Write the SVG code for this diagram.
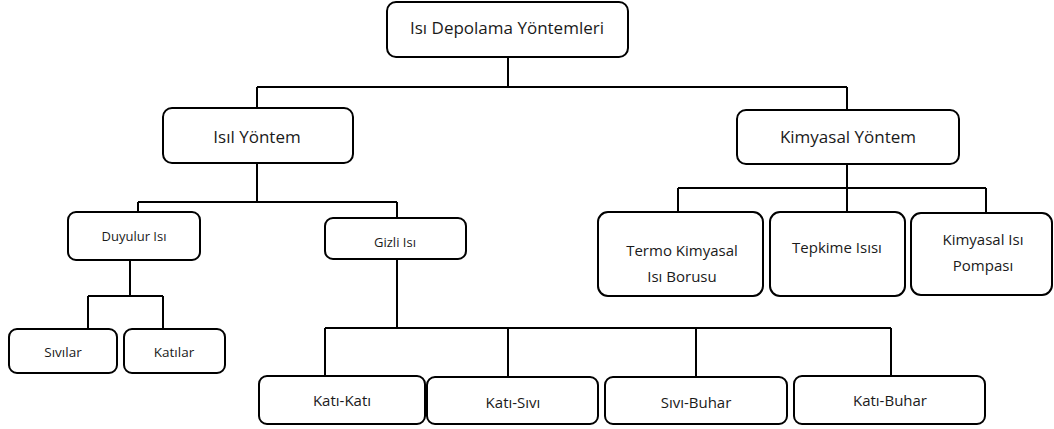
<svg xmlns="http://www.w3.org/2000/svg" width="1054" height="429" viewBox="0 0 1054 429">
<style>
.box{fill:#fff;stroke:#000;stroke-width:2}
.ln{fill:none;stroke:#000;stroke-width:2}
text{font-family:"Open Sans","DejaVu Sans",sans-serif;fill:#1a1a1a;text-anchor:middle}
.t1{font-size:17px}
.t2{font-size:13px}
.t3{font-size:13.5px}
.t4{font-size:15px}
.t5{font-size:15px}
</style>
<rect width="1054" height="429" fill="#fff"/>
<g id="connectors">
<path class="ln" d="M508 57V87M257 87H847M257 87V108M847 87V110"/>
<path class="ln" d="M257 163V202M138 202H397M138 202V212M397 202V218"/>
<path class="ln" d="M847 164V212M678 188H986M678 188V212M986 188V213"/>
<path class="ln" d="M130 260V296M88 296H163M88 296V329M163 296V329"/>
<path class="ln" d="M397 259V328M325 328H891M325 328V376M508 328V377M696 328V377M891 328V376"/>
</g>
<g id="n-root"><rect class="box" x="387" y="2" width="241" height="55" rx="9"/><text class="t1" x="507" y="34">Isı Depolama Yöntemleri</text></g>
<g id="n-isil"><rect class="box" x="163" y="108" width="190" height="55" rx="9"/><text class="t1" x="257" y="143">Isıl Yöntem</text></g>
<g id="n-kimyasal"><rect class="box" x="737" y="110" width="222" height="54" rx="9"/><text class="t1" x="848" y="143">Kimyasal Yöntem</text></g>
<g id="n-duyulur"><rect class="box" x="68" y="212" width="132" height="48" rx="8"/><text class="t2" x="134" y="241">Duyulur Isı</text></g>
<g id="n-gizli"><rect class="box" x="325" y="218" width="141" height="41" rx="8"/><text class="t2" x="395" y="247">Gizli Isı</text></g>
<g id="n-sivilar"><rect class="box" x="9" y="329" width="108" height="44" rx="8"/><text class="t3" x="63" y="357">Sıvılar</text></g>
<g id="n-katilar"><rect class="box" x="124" y="329" width="101" height="44" rx="8"/><text class="t3" x="174" y="357">Katılar</text></g>
<g id="n-katikati"><rect class="box" x="259" y="376" width="166" height="48" rx="8"/><text class="t4" x="342" y="406">Katı-Katı</text></g>
<g id="n-katisivi"><rect class="box" x="427" y="377" width="171" height="47" rx="8"/><text class="t4" x="513" y="408">Katı-Sıvı</text></g>
<g id="n-sivibuhar"><rect class="box" x="605" y="377" width="182" height="47" rx="8"/><text class="t4" x="696" y="408">Sıvı-Buhar</text></g>
<g id="n-katibuhar"><rect class="box" x="794" y="376" width="191" height="48" rx="8"/><text class="t4" x="890" y="406">Katı-Buhar</text></g>
<g id="n-termo"><rect class="box" x="598" y="212" width="165" height="84" rx="10"/><text class="t5" x="682" y="256">Termo Kimyasal</text><text class="t5" x="682" y="282">Isı Borusu</text></g>
<g id="n-tepkime"><rect class="box" x="770" y="212" width="135" height="84" rx="10"/><text class="t5" x="837" y="253">Tepkime Isısı</text></g>
<g id="n-pompa"><rect class="box" x="911" y="213" width="141" height="82" rx="10"/><text class="t5" x="983" y="245">Kimyasal Isı</text><text class="t5" x="983" y="271">Pompası</text></g>
</svg>
